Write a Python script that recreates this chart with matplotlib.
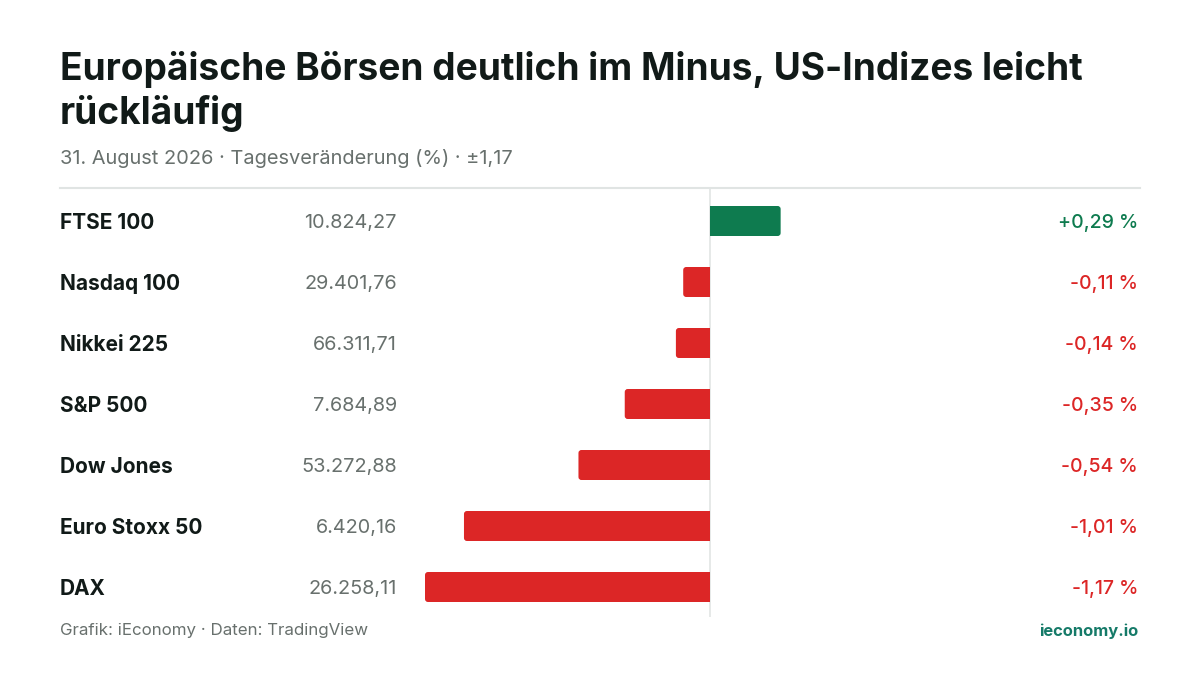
import matplotlib
matplotlib.use('Agg')
import matplotlib.pyplot as plt
from matplotlib.transforms import blended_transform_factory
from matplotlib.lines import Line2D
from matplotlib.patches import FancyBboxPatch

plt.rcParams['font.family'] = ['Inter', 'DejaVu Sans']

# data
indices = ['FTSE 100', 'Nasdaq 100', 'Nikkei 225', 'S&P 500', 'Dow Jones', 'Euro Stoxx 50', 'DAX']
levels = [10824.27, 29401.76, 66311.71, 7684.89, 53272.88, 6420.16, 26258.11]
changes = [0.29, -0.11, -0.14, -0.35, -0.54, -1.01, -1.17]

GREEN = '#0e7b4f'
RED = '#dc2626'
DARK = '#111a18'
GRAY = '#68706d'
W, H = 1200, 675


def de_num(v, nd=2):
    s = f"{abs(v):,.{nd}f}".replace(',', 'X').replace('.', ',').replace('X', '.')
    return s


def de_pct(v):
    sign = '+' if v > 0 else '-'
    return f"{sign}{de_num(v)} %"


fig = plt.figure(figsize=(12, 6.75), dpi=100)
fig.patch.set_facecolor('white')

# bar axes: x 425..995 px, y 188..617 px
ax = fig.add_axes([425 / W, 1 - 617 / H, 570 / W, 429 / H])
ax.set_xlim(-1.17, 1.17)
ax.set_ylim(6 + 30 / 61, -33 / 61)
ax.axis('off')

ypos = list(range(len(indices)))
colors = [GREEN if c > 0 else RED for c in changes]
bh = 30 / 61

# rounded outer end: full bar with rounded corners + square half near zero
xpx = 2.34 / 570
ypx = 1 / 61
for y, ch, col in zip(ypos, changes, colors):
    x0 = min(0, ch)
    ax.add_patch(FancyBboxPatch((x0, y - bh / 2), abs(ch), bh,
                                boxstyle=f'round,pad=0,rounding_size={3 * xpx}',
                                mutation_aspect=ypx / xpx,
                                fc=col, ec='none', zorder=2))
ax.barh(ypos, [c / 2 for c in changes], height=bh, color=colors, zorder=2)
ax.axvline(0, color='#e2e5e4', lw=1.2, zorder=1)

trans = blended_transform_factory(fig.transFigure, ax.transData)
dy = 2 / 61
for y, name, lvl, ch, col in zip(ypos, indices, levels, changes, colors):
    ax.text(60 / W, y + dy, name, transform=trans, ha='left', va='center',
            fontsize=15, fontweight='bold', color=DARK)
    ax.text(397 / W, y + dy, de_num(lvl), transform=trans, ha='right', va='center',
            fontsize=14.3, color=GRAY)
    ax.text(1138 / W, y + dy, de_pct(ch), transform=trans, ha='right', va='center',
            fontsize=14, fontweight='medium', color=col)

# header
fig.text(60 / W, 1 - 69 / H, 'Europäische Börsen deutlich im Minus, US-Indizes leicht',
         fontsize=26.7, fontweight='bold', color=DARK, va='center', ha='left')
fig.text(60 / W, 1 - 114 / H, 'rückläufig',
         fontsize=26.7, fontweight='bold', color=DARK, va='center', ha='left')
fig.text(60 / W, 1 - 159 / H, '31. August 2026 · Tagesveränderung (%) · ±1,17',
         fontsize=14.4, color=GRAY, va='center', ha='left')
fig.add_artist(Line2D([60 / W, 1140 / W], [1 - 188 / H, 1 - 188 / H],
                      transform=fig.transFigure, color='#e0e4e3', lw=1.5))

# footer
fig.text(60 / W, 1 - 631 / H, 'Grafik: iEconomy · Daten: TradingView',
         fontsize=12.2, color=GRAY, va='center', ha='left')
fig.text(1138 / W, 1 - 631 / H, 'ieconomy.io',
         fontsize=11.9, fontweight='bold', color='#157a68', va='center', ha='right')

fig.savefig('out.png', dpi=100, facecolor='white')
